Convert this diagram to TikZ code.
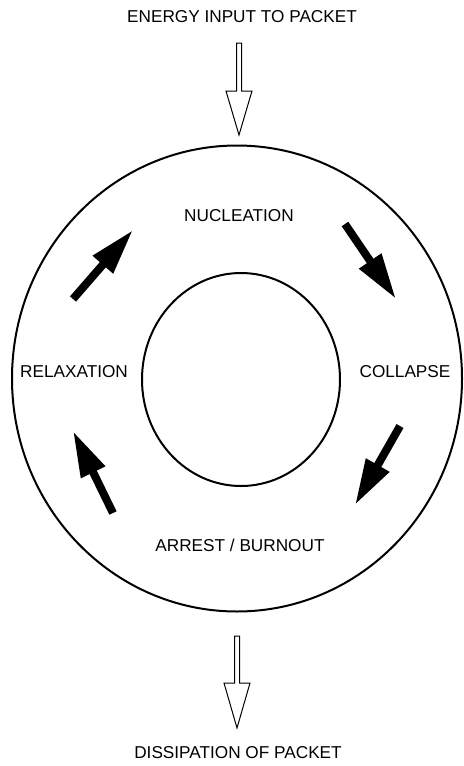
\documentclass[tikz,border=0pt]{standalone}
\usepackage{fontspec}
\setmainfont{Liberation Sans}
\usepackage{tikz}
\usetikzlibrary{arrows.meta,positioning,calc}

\tikzset{
  ring/.style={line width=1pt},
  stage/.style={font=\fontsize{8.6}{10}\selectfont, inner sep=0pt},
  cycarrow/.style={line width=4pt, -{Triangle[length=23pt,width=12.5pt]}},
  openarrow/.style={line width=0.5pt, fill=white}
}
% hollow downward arrow: x, shaft top, head base, tip
\newcommand{\hollowdown}[4]{%
  \draw[openarrow] (#1-2.5,#2) -- (#1+2.5,#2) -- (#1+2.5,#3) -- (#1+13,#3)
    -- (#1,#4) -- (#1-13,#3) -- (#1-2.5,#3) -- cycle;}

\begin{document}
\begin{tikzpicture}[x=0.5pt,y=-0.5pt]
      \useasboundingbox (0,0) rectangle (463,766);
      % outer and inner rings
      \draw[ring] (237,378.5) ellipse [x radius=225,y radius=233];
      \draw[ring] (241,379.5) ellipse [x radius=99,y radius=106.5];
      % stage labels
      \node[stage] (nuc) at (239,216) {NUCLEATION};
      \node[stage] (col) at (405,372) {COLLAPSE};
      \node[stage] (arr) at (240,545) {ARREST / BURNOUT};
      \node[stage] (rel) at (74,372) {RELAXATION};
      % arrows round the cycle
      \coordinate (nucA) at (345,224); \coordinate (nucB) at (396,299);
      \coordinate (colA) at (400,426); \coordinate (colB) at (355,505);
      \coordinate (arrA) at (113,513); \coordinate (arrB) at (73,431);
      \coordinate (relA) at (73,299);  \coordinate (relB) at (133,230);
      \draw[cycarrow] (nucA) -- (nucB);
      \draw[cycarrow] (colA) -- (colB);
      \draw[cycarrow] (arrA) -- (arrB);
      \draw[cycarrow] (relA) -- (relB);
      % energy in and out
      \node[stage] (input) at (242,17) {ENERGY INPUT TO PACKET};
      \node[stage] (output) at (238,753) {DISSIPATION OF PACKET};
      \hollowdown{239}{43}{91}{135}
      \hollowdown{237}{636}{683}{728}
\end{tikzpicture}
\end{document}
